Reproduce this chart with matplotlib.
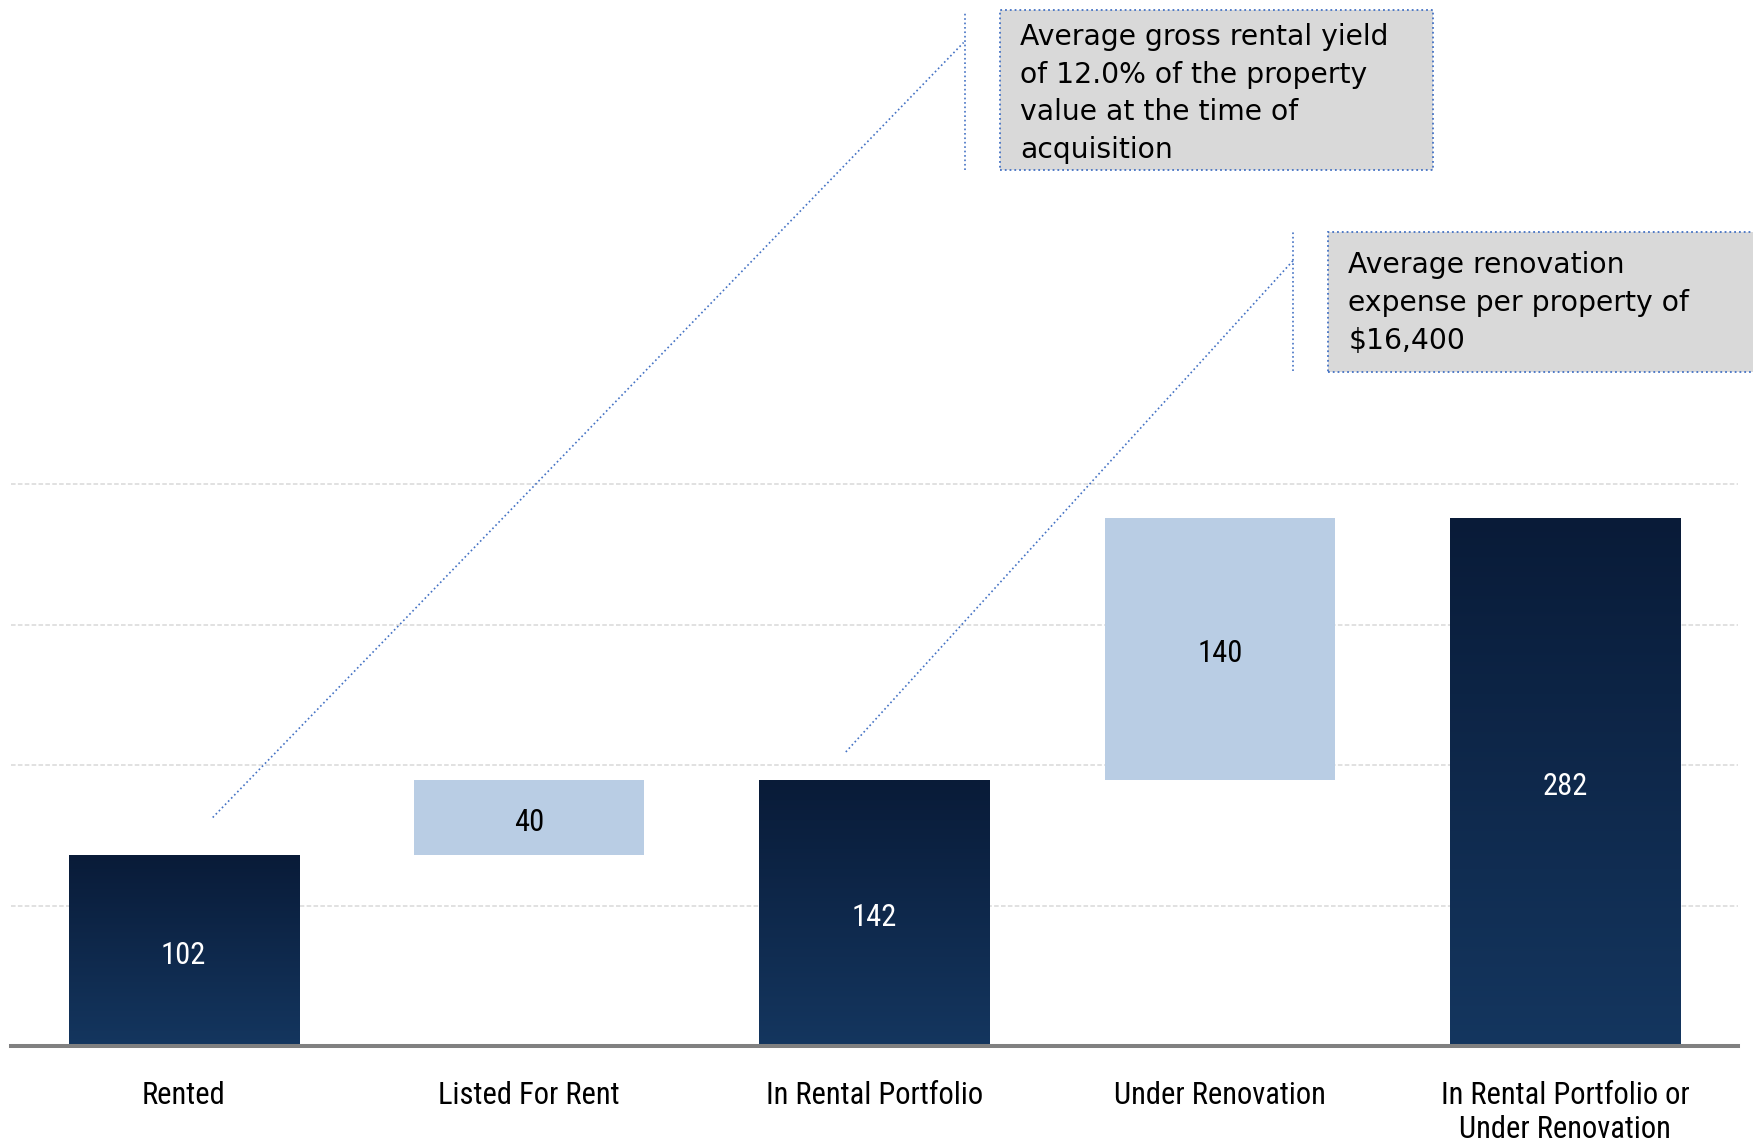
import numpy as np
import matplotlib
matplotlib.use("Agg")
import matplotlib.pyplot as plt
from matplotlib.patches import Rectangle
from matplotlib.colors import LinearSegmentedColormap
from matplotlib import font_manager
import matplotlib.transforms as mtransforms

# ---- data ----
categories = ["Rented", "Listed For Rent", "In Rental Portfolio", "Under Renovation",
              "In Rental Portfolio or\nUnder Renovation"]
values = [102, 40, 142, 140, 282]
is_total = [True, False, True, False, True]
grid_ticks = [75, 150, 225, 300]
callout1 = "Average gross rental yield\nof 12.0% of the property\nvalue at the time of\nacquisition"
callout2 = "Average renovation\nexpense per property of\n$16,400"

# pick a narrow font if one is installed
names = sorted({f.name for f in font_manager.fontManager.ttflist})
narrow = [n for n in names if ("Narrow" in n or "Condensed" in n)]
pref = ["Liberation Sans Narrow", "Roboto Condensed", "Open Sans Condensed",
        "DejaVu Sans Condensed", "Noto Sans Condensed"]
cond_font = None
for p in pref:
    if p in names:
        cond_font = p
        break
if cond_font is None and narrow:
    cond_font = narrow[0]
if cond_font is None:
    cond_font = "Roboto" if "Roboto" in names else "DejaVu Sans"
label_family = [cond_font, "DejaVu Sans"]

# waterfall bottoms
bottoms = []
running = 0
for v, t in zip(values, is_total):
    if t:
        bottoms.append(0)
        running = v
    else:
        bottoms.append(running)
        running += v

W, H = 1753, 1141
fig = plt.figure(figsize=(W / 100, H / 100), dpi=100)
ax = fig.add_axes([11 / W, (H - 1046) / H, 1727 / W, 1046 / H])

dark_cmap = LinearSegmentedColormap.from_list("navy", ["#14365F", "#091B38"])
light = "#B9CDE4"
bw = 0.667
x = np.arange(len(values))
fs_val = 22
for i, (v, b, t) in enumerate(zip(values, bottoms, is_total)):
    if t:
        bar = ax.bar(x[i], v, bottom=b, width=bw, color="none", edgecolor="none", zorder=3)[0]
        grad = np.linspace(0, 1, 256).reshape(-1, 1)
        im = ax.imshow(grad, cmap=dark_cmap, aspect="auto", origin="lower",
                       extent=[x[i] - bw / 2, x[i] + bw / 2, b, b + v], zorder=3)
        im.set_clip_path(bar)
        tc = "white"
    else:
        ax.bar(x[i], v, bottom=b, width=bw, color=light, edgecolor="none", zorder=3)
        tc = "black"
    off = mtransforms.ScaledTranslation(0, -(0.36 * fs_val + 1.5) / 72, fig.dpi_scale_trans)
    ax.text(x[i], b + v / 2, str(v), ha="center", va="baseline", color=tc,
            fontsize=fs_val, family=label_family, zorder=5, transform=ax.transData + off)

ax.set_xlim(-0.5, 4.5)
ax.set_ylim(0, 558.5)
ax.set_yticks(grid_ticks)
ax.set_yticklabels([])
ax.tick_params(axis="y", length=0)
ax.grid(axis="y", color="#D9D9D9", linestyle=(0, (3, 1.5)), linewidth=1.1, zorder=0)
ax.set_axisbelow(True)
ax.set_xticks(x)
ax.set_xticklabels(categories, fontsize=22, family=label_family, linespacing=1.22)
ax.tick_params(axis="x", length=0, pad=25)
for s in ["top", "left", "right"]:
    ax.spines[s].set_visible(False)
ax.spines["bottom"].set_color("#808080")
ax.spines["bottom"].set_linewidth(2.9)
ax.spines["bottom"].set_zorder(4)

lc = "#4472C4"
# callout 1
ax.plot([0.084, 2.258], [122, 535.8], color=lc, linestyle=":", linewidth=1.2, zorder=4)
ax.plot([2.262, 2.262], [467.7, 552.6], color=lc, linestyle=":", linewidth=1.2, zorder=4)
ax.add_patch(Rectangle((2.364, 467.8), 3.616 - 2.364, 553.2 - 467.8, facecolor="#D9D9D9",
                       edgecolor=lc, linestyle=":", linewidth=1.3, zorder=4))
ax.text(2.422, 508.6, callout1, ha="left", va="center", fontsize=20.3, color="black",
        family="DejaVu Sans", linespacing=1.45, zorder=5)
# callout 2
ax.plot([1.917, 3.213], [157, 419.6], color=lc, linestyle=":", linewidth=1.2, zorder=4)
ax.plot([3.213, 3.213], [360.4, 434.6], color=lc, linestyle=":", linewidth=1.2, zorder=4)
ax.add_patch(Rectangle((3.314, 359.9), 4.6 - 3.314, 434.6 - 359.9, facecolor="#D9D9D9",
                       edgecolor=lc, linestyle=":", linewidth=1.3, zorder=4, clip_on=False))
ax.text(3.372, 396.6, callout2, ha="left", va="center", fontsize=20.3, color="black",
        family="DejaVu Sans", linespacing=1.45, zorder=5)

fig.savefig("out.png", dpi=100, facecolor="white")
